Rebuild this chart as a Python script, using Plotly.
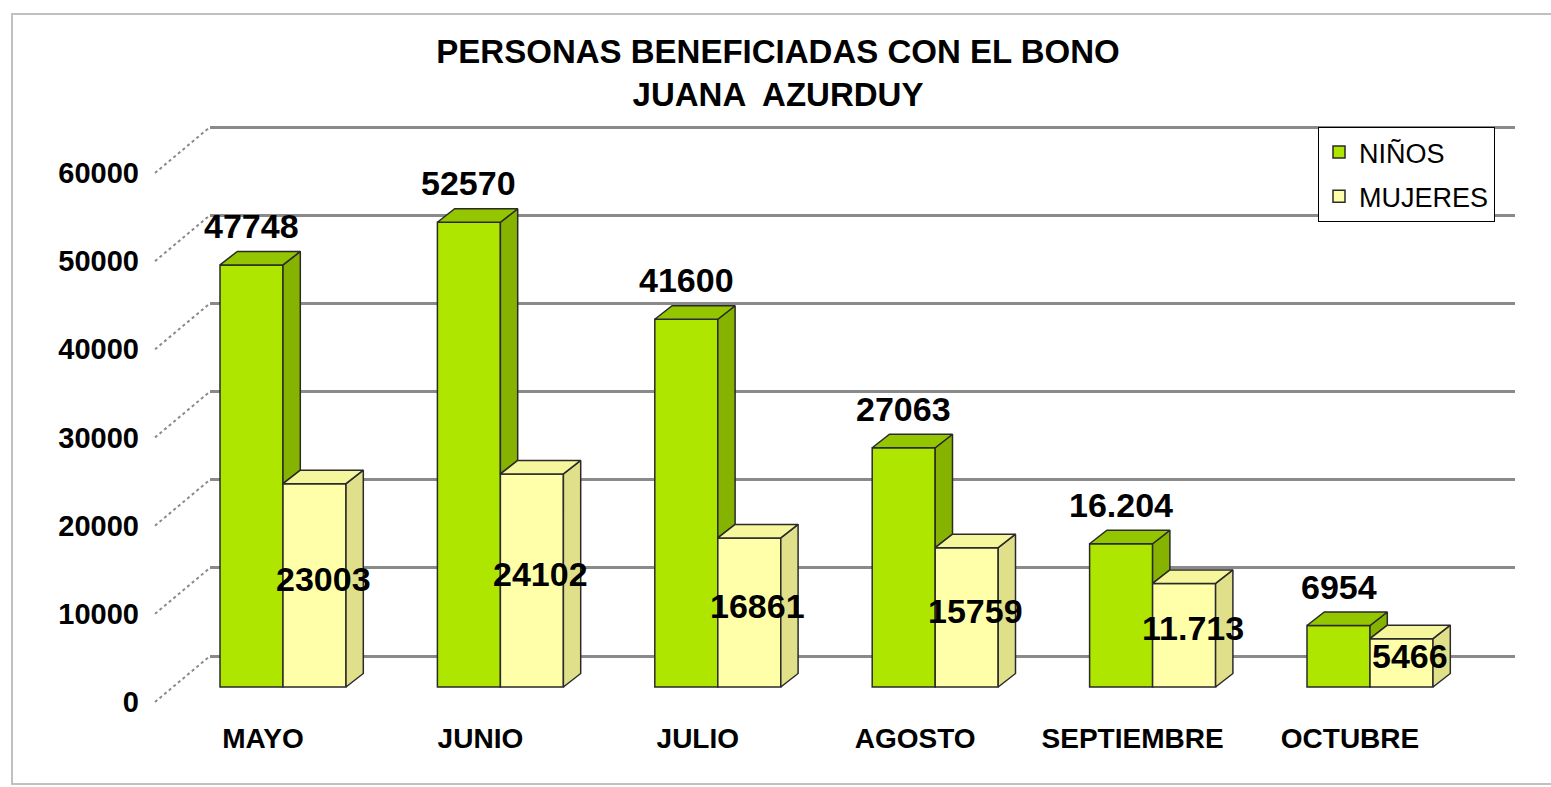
import plotly.graph_objects as go

# ---------------- data ----------------
categories = ["MAYO", "JUNIO", "JULIO", "AGOSTO", "SEPTIEMBRE", "OCTUBRE"]
ninos = [47748, 52570, 41600, 27063, 16204, 6954]
mujeres = [23003, 24102, 16861, 15759, 11713, 5466]
ninos_labels = ["47748", "52570", "41600", "27063", "16.204", "6954"]
mujeres_labels = ["23003", "24102", "16861", "15759", "11.713", "5466"]
y_ticks = [0, 10000, 20000, 30000, 40000, 50000, 60000]
y_tick_labels = ["0", "10000", "20000", "30000", "40000", "50000", "60000"]

# ---------------- geometry (pixels of the 1551x787 page) ----------------
W, H = 1551, 787
FONT = "Liberation Sans, Arial, sans-serif"

# back wall (gridlines)
back_left, back_right = 210, 1515
back_zero_px, back_top_px = 656, 127
back_scale = (back_zero_px - back_top_px) / 60000.0
back_range = [-600, 60600]
def back_py(v):
    return back_zero_px - v * back_scale
y1dom = [1 - back_py(back_range[0]) / H, 1 - back_py(back_range[1]) / H]
x1dom = [back_left / W, back_right / W]

# front plane (bars)
front_zero_px = 687
front_scale = 88.4 / 10000.0
cat0_px, cat_step = 283, 217.4
x_range = [-0.8, 5.8]
y_range = [-1200, 65000]
def front_py(v):
    return front_zero_px - v * front_scale
x2dom = [(cat0_px + cat_step * x_range[0]) / W, (cat0_px + cat_step * x_range[1]) / W]
y2dom = [1 - front_py(y_range[0]) / H, 1 - front_py(y_range[1]) / H]

bar_w = 63 / cat_step
dx = 17.3 / cat_step
dy = 13.5 / front_scale

# colours
N_FRONT, N_TOP, N_SIDE = "#AEE600", "#94C600", "#86B200"
M_FRONT, M_TOP, M_SIDE = "#FFFFAA", "#F6F69C", "#E0E08A"
EDGE = "#2a2a2a"

fig = go.Figure()

# invisible trace so the back-wall subplot (gridlines + tick labels) is drawn
fig.add_trace(go.Scatter(x=[0.5], y=[0], xaxis="x", yaxis="y", mode="markers",
                         marker=dict(opacity=0), showlegend=False, hoverinfo="skip"))

# front faces as bars
fig.add_trace(go.Bar(
    x=list(range(len(categories))), y=ninos, name="NIÑOS", legendgroup="n",
    width=bar_w, offset=-bar_w, xaxis="x2", yaxis="y2",
    marker=dict(color=N_FRONT, line=dict(color=EDGE, width=1.5)),
    hoverinfo="skip"))
fig.add_trace(go.Bar(
    x=list(range(len(categories))), y=mujeres, name="MUJERES", legendgroup="m",
    width=bar_w, offset=0, xaxis="x2", yaxis="y2",
    marker=dict(color=M_FRONT, line=dict(color=EDGE, width=1.5)),
    hoverinfo="skip"))

# 3D top and side faces, computed from the values
def add_poly(xs, ys, color):
    fig.add_trace(go.Scatter(
        x=xs, y=ys, mode="lines", fill="toself", fillcolor=color,
        line=dict(color=EDGE, width=1.5), xaxis="x2", yaxis="y2",
        showlegend=False, hoverinfo="skip"))

for i in range(len(categories)):
    for vals, other, off, ctop, cside in (
            (ninos, mujeres, -bar_w, N_TOP, N_SIDE),
            (mujeres, None, 0.0, M_TOP, M_SIDE)):
        v = vals[i]
        x0 = i + off
        x1 = x0 + bar_w
        lo = 0
        if other is not None and other[i] < v:
            lo = other[i]
        # side
        add_poly([x1, x1 + dx, x1 + dx, x1, x1],
                 [lo, lo + dy, v + dy, v, lo], cside)
        # top
        add_poly([x0, x1, x1 + dx, x0 + dx, x0],
                 [v, v, v + dy, v + dy, v], ctop)

# value labels
annotations = []
for i in range(len(categories)):
    annotations.append(dict(
        x=i - bar_w / 2, y=ninos[i], xref="x2", yref="y2", yshift=39,
        text=ninos_labels[i], showarrow=False, xanchor="center", yanchor="middle",
        font=dict(family=FONT, size=34, color="black", weight="bold")))
    annotations.append(dict(
        x=i + bar_w / 2 + dx / 2, y=mujeres[i] / 2 + dy / 2, xref="x2", yref="y2",
        text=mujeres_labels[i], showarrow=False, xanchor="center", yanchor="middle",
        font=dict(family=FONT, size=34, color="black", weight="bold")))

# diagonal dotted stubs from the front-left labels to the back wall
shapes = []
stub_dx, stub_dy = 55, 46
for v in y_ticks:
    py = back_py(v)
    shapes.append(dict(
        type="line", xref="paper", yref="paper",
        x0=(back_left - stub_dx) / W, y0=1 - (py + stub_dy) / H,
        x1=back_left / W, y1=1 - py / H,
        line=dict(color="#8a8a8a", width=2, dash="dot")))

# outer chart border
shapes.append(dict(type="rect", xref="paper", yref="paper",
                   x0=12 / W, x1=1.02, y0=1 - 784 / H, y1=1 - 14 / H,
                   line=dict(color="#c0c0c0", width=2), fillcolor="rgba(0,0,0,0)",
                   layer="below"))

fig.update_layout(
    width=W, height=H,
    margin=dict(l=0, r=0, t=0, b=0, autoexpand=False),
    paper_bgcolor="white", plot_bgcolor="rgba(0,0,0,0)",
    barmode="overlay",
    title=dict(text="PERSONAS BENEFICIADAS CON EL BONO<br>JUANA  AZURDUY",
               x=778 / W, xanchor="center", y=1 - 63 / H, yanchor="middle",
               font=dict(family=FONT, size=33, color="black", weight="bold")),
    xaxis=dict(domain=x1dom, range=[0, 1], visible=False, fixedrange=True,
               automargin=False),
    yaxis=dict(domain=y1dom, range=back_range, tickvals=y_ticks,
               ticktext=y_tick_labels, automargin=False,
               showgrid=True, gridcolor="#8a8a8a", gridwidth=2.5,
               zeroline=True, zerolinecolor="#8a8a8a", zerolinewidth=2.5,
               showline=False, ticks="", ticklen=0,
               ticklabelstandoff=70, ticklabelshift=46,
               tickfont=dict(family=FONT, size=29, color="black", weight="bold"),
               anchor="x", fixedrange=True),
    xaxis2=dict(domain=x2dom, range=x_range, anchor="y2", automargin=False,
                tickvals=list(range(len(categories))), ticktext=categories,
                showgrid=False, zeroline=False, showline=False, ticks="",
                ticklabelstandoff=21, ticklabelshift=-20,
                tickfont=dict(family=FONT, size=28, color="black", weight="bold"),
                fixedrange=True),
    yaxis2=dict(domain=y2dom, range=y_range, anchor="x2", visible=False,
                automargin=False, showgrid=False, zeroline=False, fixedrange=True),
    legend=dict(x=1318 / W, y=1 - 127 / H, xanchor="left", yanchor="top",
                bgcolor="white", bordercolor="black", borderwidth=1,
                font=dict(family=FONT, size=27, color="black"),
                traceorder="grouped", tracegroupgap=6),
    annotations=annotations,
    shapes=shapes,
    showlegend=True,
)

fig.write_html("out.html")
